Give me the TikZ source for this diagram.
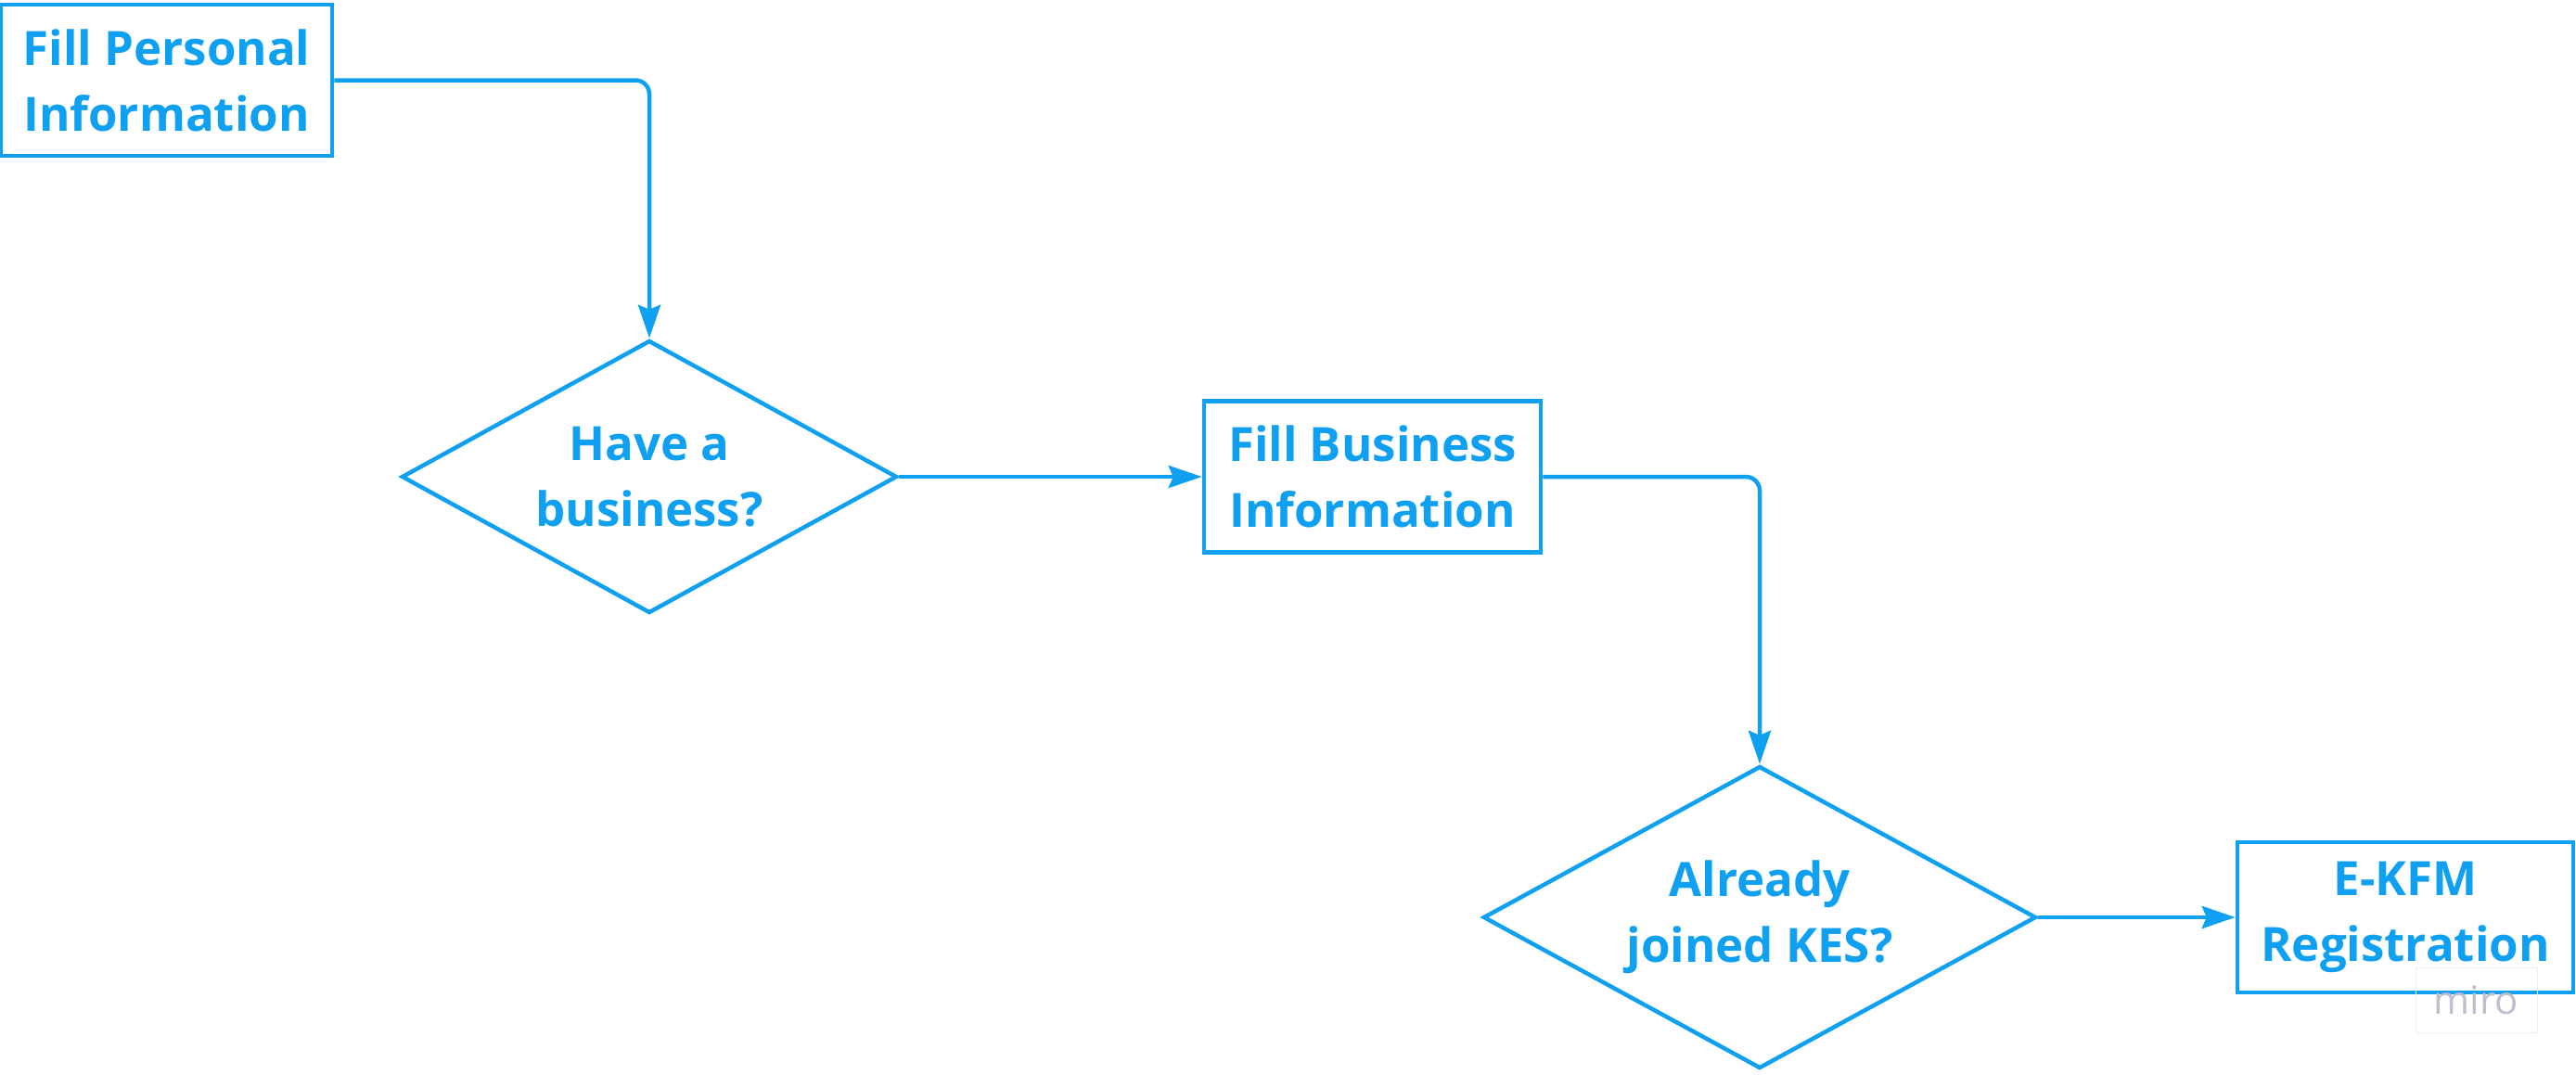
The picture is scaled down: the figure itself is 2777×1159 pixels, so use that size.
\documentclass[tikz,border=0pt]{standalone}
\usepackage{fontspec}
\setmainfont{Open Sans}
\usetikzlibrary{shapes.geometric,arrows.meta}
\definecolor{miroblue}{RGB}{16,160,242}
\definecolor{wmgray}{RGB}{190,190,208}
\definecolor{wmbox}{RGB}{238,238,242}
\begin{document}
\begin{tikzpicture}[x=1pt,y=1pt,
  every node/.style={font=\fontsize{51}{71}\selectfont\bfseries, text=miroblue, align=center},
  procbox/.style={draw=miroblue, line width=4.5pt, rectangle, inner sep=0pt},
  decision/.style={draw=miroblue, line width=4.5pt, diamond, inner sep=0pt},
  link/.style={draw=miroblue, line width=4.5pt, rounded corners=15pt,
    -{Stealth[length=36pt,width=24pt,inset=5pt]}}
]
\useasboundingbox (0,0) rectangle (2777,-1159);
\node[procbox, minimum width=357pt, minimum height=163pt] (b1) at (179.5,-86.5) {Fill Personal\\Information};
\node[decision, minimum width=534pt, minimum height=294pt,
  label={[name=t1]center:{Have a\\business?}}] (d1) at (700,-514) {};
\node[procbox, minimum width=363pt, minimum height=163pt] (b2) at (1479.5,-514) {Fill Business\\Information};
\node[decision, minimum width=596pt, minimum height=326pt,
  label={[name=t2]center:{Already\\joined KES?}}] (d2) at (1897,-989) {};
\node[procbox, minimum width=362pt, minimum height=162pt] (b3) at (2593,-989) {E-KFM\\Registration};
\node[draw=wmbox, line width=1pt, minimum width=131pt, minimum height=70pt, inner sep=0pt,
  font=\fontsize{42}{50}\selectfont, text=wmgray] (wm) at (2669.5,-1078) {miro};
\draw[link] (b1.east) -| (d1.north);
\draw[link] (d1.east) -- (b2.west);
\draw[link] (b2.east) -| (d2.north);
\draw[link] (d2.east) -- (b3.west);
\end{tikzpicture}
\end{document}
